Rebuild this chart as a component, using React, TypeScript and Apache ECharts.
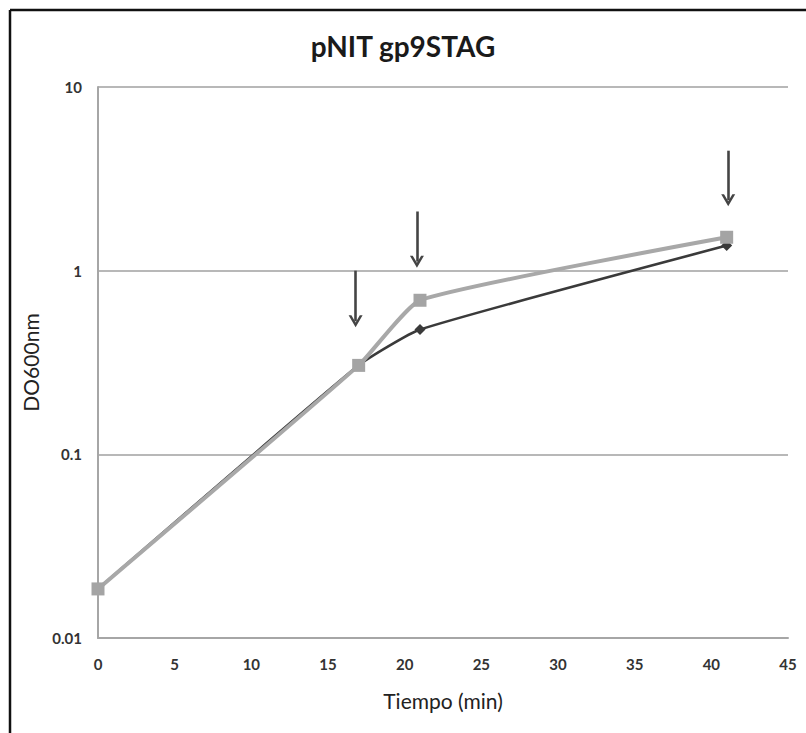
import React, { useEffect, useRef } from "react";
import * as echarts from "echarts";

const timeValues = [0, 17, 21, 41];
const darkSeries = [0.0185, 0.305, 0.478, 1.37];
const lightSeries = [0.0185, 0.305, 0.69, 1.52];
const arrowX = [16.8, 20.8, 41.1];
const arrowTop = [1.0, 2.1, 4.5];
const arrowBottom = [0.53, 1.12, 2.42];
const titleText = "pNIT gp9STAG";
const xName = "Tiempo (min)";
const yName = "DO600nm";

const FONT = "Lato, 'Open Sans', sans-serif";

export default function App() {
  const ref = useRef<HTMLDivElement>(null);
  useEffect(() => {
    if (!ref.current) return;
    const chart = echarts.init(ref.current, undefined, { renderer: "svg" });
    const chevron = "path://M0,12 L7,0 L14,12 L11.2,12 L7,4.8 L2.8,12 Z";
    chart.setOption({
      animation: false,
      backgroundColor: "#ffffff",
      title: {
        text: titleText,
        left: "center",
        top: 27,
        textStyle: { fontFamily: FONT, fontSize: 28, fontWeight: "bold", color: "#1a1a1a" },
      },
      grid: { left: 98, right: 18, top: 87, bottom: 95 },
      xAxis: {
        type: "value",
        min: 0,
        max: 45,
        interval: 5,
        name: xName,
        nameLocation: "middle",
        nameGap: 52,
        nameTextStyle: { fontFamily: FONT, fontSize: 21, color: "#222" },
        axisLine: { show: true, lineStyle: { color: "#a6a6a6", width: 2 } },
        axisTick: { show: false },
        splitLine: { show: false },
        axisLabel: { margin: 18, fontFamily: FONT, fontSize: 15, fontWeight: "bold", color: "#333" },
      },
      yAxis: {
        type: "log",
        logBase: 10,
        min: 0.01,
        max: 10,
        name: yName,
        nameLocation: "middle",
        nameGap: 52,
        nameTextStyle: { fontFamily: FONT, fontSize: 21, color: "#222" },
        axisLine: { show: true, lineStyle: { color: "#a6a6a6", width: 2 } },
        axisTick: { show: false },
        splitLine: { show: true, lineStyle: { color: "#a0a0a0", width: 1.5 } },
        axisLabel: {
          margin: 16,
          fontFamily: FONT,
          fontSize: 15,
          fontWeight: "bold",
          color: "#333",
          formatter: (v: number) => String(v),
        },
      },
      series: [
        {
          type: "line",
          data: timeValues.map((t, i) => [t, darkSeries[i]]),
          smooth: 0.15,
          symbol: "diamond",
          symbolSize: 11,
          z: 2,
          lineStyle: { color: "#3a3a3a", width: 2.6 },
          itemStyle: { color: "#3a3a3a" },
          markLine: {
            silent: true,
            symbol: ["none", chevron],
            symbolSize: [14, 12],
            label: { show: false },
            lineStyle: { color: "#444", width: 2.6, type: "solid" },
            data: arrowX.map((x, i) => [
              { coord: [x, arrowTop[i]] },
              { coord: [x, arrowBottom[i]] },
            ]),
          },
        },
        {
          type: "line",
          data: timeValues.map((t, i) => [t, lightSeries[i]]),
          smooth: 0.15,
          symbol: "rect",
          symbolSize: 13,
          z: 3,
          lineStyle: { color: "#a8a8a8", width: 4 },
          itemStyle: { color: "#a4a4a4" },
        },
      ],
      graphic: [
        { type: "line", shape: { x1: 10, y1: 10, x2: 806, y2: 10 }, style: { stroke: "#111", lineWidth: 2.5 } },
        { type: "line", shape: { x1: 10, y1: 10, x2: 10, y2: 733 }, style: { stroke: "#111", lineWidth: 2.5 } },
      ],
    });
    return () => chart.dispose();
  }, []);
  return (
    <div
      ref={ref}
      style={{ position: "absolute", left: 0, top: 0, width: 806, height: 733 }}
    />
  );
}
